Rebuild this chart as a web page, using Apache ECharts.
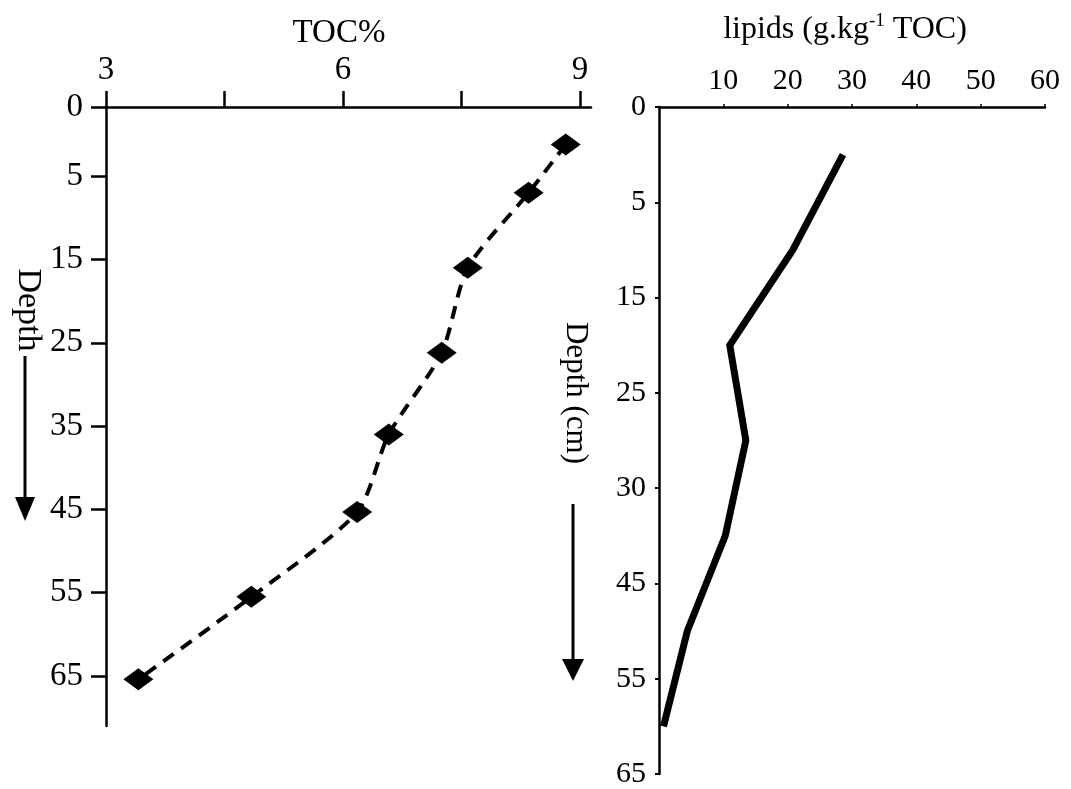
<!DOCTYPE html>
<html>
<head>
<meta charset="utf-8">
<script src="https://cdn.jsdelivr.net/npm/echarts@6/dist/echarts.min.js"></script>
<style>
html,body{margin:0;padding:0;background:#fff;}
#chart{width:1071px;height:789px;}
</style>
</head>
<body>
<div id="chart"></div>
<script>
// ---- Left panel: TOC% vs depth ----
var tocValues   = [8.82, 8.35, 7.58, 7.25, 6.58, 6.18, 4.84, 3.41];
var tocDepths   = [1.2, 7.0, 16.0, 26.2, 36.0, 45.3, 55.5, 65.4];
var tocTicks    = [3, 4.5, 6, 7.5, 9];
var tocLabels   = [3, 6, 9];
var leftDepthTop = -3.3;   // axis top (labelled "0" in the original)
var leftDepthBottom = 71;
var leftDepthTickValues = [-3.3, 5, 15, 25, 35, 45, 55, 65];
var leftDepthTickLabels = ['0', '5', '15', '25', '35', '45', '55', '65'];

// ---- Right panel: lipids vs depth interval ----
var lipidBands  = ['0-5', '5-15', '15-25', '25-30', '30-45', '45-55', '55-65'];
var lipidValues = [28.6, 20.8, 11.0, 13.5, 10.3, 4.4, 0.7];
var rightDepthLabels = ['0', '5', '15', '25', '30', '45', '55', '65'];
var lipidTicks = [10, 20, 30, 40, 50, 60];

var FONT = 'Liberation Serif';
var chart = echarts.init(document.getElementById('chart'));

chart.setOption({
  backgroundColor: '#ffffff',
  animation: false,
  textStyle: { fontFamily: FONT, color: '#000' },
  grid: [
    { left: 106, top: 107, width: 485, height: 619 },
    { left: 659, top: 107, width: 386, height: 675 }
  ],
  xAxis: [
    {
      type: 'value', gridIndex: 0, position: 'top',
      min: 3, max: 9.14,
      axisLine: { show: true, onZero: false, lineStyle: { color: '#000', width: 2.5 } },
      axisTick: { show: true, length: 16, lineStyle: { color: '#000', width: 2.5 }, customValues: tocTicks },
      axisLabel: { show: true, margin: 20, fontFamily: FONT, fontSize: 33, color: '#000', customValues: tocLabels },
      splitLine: { show: false }
    },
    {
      type: 'value', gridIndex: 1, position: 'top',
      min: 0, max: 60,
      axisLine: { show: true, onZero: false, lineStyle: { color: '#000', width: 2.5 } },
      axisTick: { show: true, length: 3, lineStyle: { color: '#000', width: 1.5 }, customValues: lipidTicks },
      axisLabel: { show: true, margin: 11, fontFamily: FONT, fontSize: 30, color: '#000', customValues: lipidTicks },
      splitLine: { show: false }
    }
  ],
  yAxis: [
    {
      type: 'value', gridIndex: 0, inverse: true, position: 'left',
      min: leftDepthTop, max: leftDepthBottom,
      axisLine: { show: true, onZero: false, lineStyle: { color: '#000', width: 2.5 } },
      axisTick: { show: true, length: 15, lineStyle: { color: '#000', width: 2.5 }, customValues: leftDepthTickValues },
      axisLabel: {
        show: true, margin: 23, fontFamily: FONT, fontSize: 33, color: '#000',
        customValues: leftDepthTickValues,
        formatter: function (v) {
          var i = leftDepthTickValues.indexOf(v);
          return i >= 0 ? leftDepthTickLabels[i] : '';
        }
      },
      splitLine: { show: false }
    },
    {
      type: 'category', gridIndex: 1, inverse: true, boundaryGap: true, position: 'left',
      data: lipidBands, show: false
    },
    {
      type: 'value', gridIndex: 1, inverse: true, position: 'left',
      min: 0, max: 7, interval: 1,
      axisLine: { show: true, onZero: false, lineStyle: { color: '#000', width: 2.5 } },
      axisTick: { show: true, length: 4, lineStyle: { color: '#000', width: 2 } },
      axisLabel: {
        show: true, margin: 13, fontFamily: FONT, fontSize: 30, color: '#000',
        formatter: function (v) { return rightDepthLabels[v]; }
      },
      splitLine: { show: false }
    }
  ],
  series: [
    {
      type: 'line', xAxisIndex: 0, yAxisIndex: 0,
      data: tocValues.map(function (v, i) { return [v, tocDepths[i]]; }),
      smooth: 0.25,
      symbol: 'diamond', symbolSize: [30, 22],
      itemStyle: { color: '#000' },
      lineStyle: { color: '#000', width: 4, type: [13, 9] },
      z: 3
    },
    {
      type: 'line', xAxisIndex: 1, yAxisIndex: 1,
      data: lipidValues.map(function (v, i) { return [v, lipidBands[i]]; }),
      showSymbol: false, symbol: 'none',
      lineStyle: { color: '#000', width: 7, join: 'miter' }
    }
  ],
  graphic: [
    { type: 'text', x: 339, y: 33, style: { text: 'TOC%', font: '33px "Liberation Serif"', fill: '#000', align: 'center', verticalAlign: 'middle' } },
    {
      type: 'text', x: 845, y: 29,
      style: {
        text: '{a|lipids (g.kg}{s|-1}{a| TOC)}',
        align: 'center', verticalAlign: 'middle', fill: '#000',
        rich: {
          a: { fontFamily: FONT, fontSize: 32, fill: '#000', lineHeight: 34, verticalAlign: 'bottom' },
          s: { fontFamily: FONT, fontSize: 19, fill: '#000', lineHeight: 34, verticalAlign: 'top' }
        }
      }
    },
    { type: 'text', x: 28, y: 310, rotation: -Math.PI / 2, style: { text: 'Depth', font: '34px "Liberation Serif"', fill: '#000', align: 'center', verticalAlign: 'middle' } },
    { type: 'text', x: 575, y: 393, rotation: -Math.PI / 2, style: { text: 'Depth (cm)', font: '31px "Liberation Serif"', fill: '#000', align: 'center', verticalAlign: 'middle' } },
    { type: 'line', shape: { x1: 25, y1: 356, x2: 25, y2: 500 }, style: { stroke: '#000', lineWidth: 3 } },
    { type: 'polygon', shape: { points: [[15, 497], [35, 497], [25, 521]] }, style: { fill: '#000' } },
    { type: 'line', shape: { x1: 573, y1: 504, x2: 573, y2: 662 }, style: { stroke: '#000', lineWidth: 3 } },
    { type: 'polygon', shape: { points: [[562, 659], [584, 659], [573, 681]] }, style: { fill: '#000' } }
  ]
});
</script>
</body>
</html>
